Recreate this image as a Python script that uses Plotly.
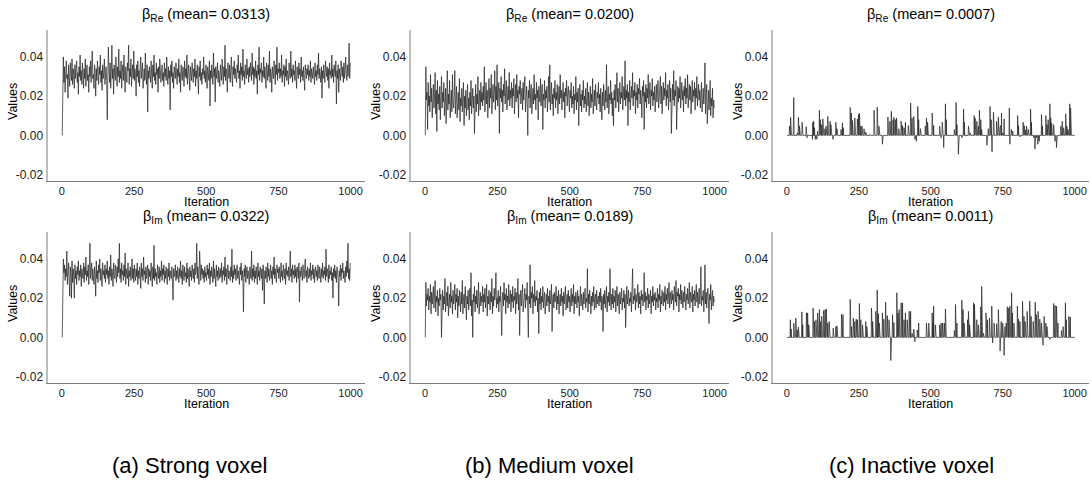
import plotly.graph_objects as go

W, H = 1092, 485

# ---------------- data (values in units of 0.001; iterations 1,3,5,...,999) ----------------
strong_re_milli = [
    0, 14, 40, 27, 35, 22, 33, 38, 29, 31, 19, 36, 30, 25, 37, 33, 28, 39, 26, 34, 31, 24, 36, 29, 33,
    38, 27, 32, 21, 35, 30, 41, 28, 33, 26, 37, 31, 24, 34, 29, 39, 25, 33, 36, 28, 31, 22, 35, 30, 38,
    27, 33, 43, 29, 31, 24, 36, 32, 20, 34, 28, 38, 30, 26, 35, 31, 41, 27, 33, 23, 36, 29, 32, 39, 26,
    31, 35, 28, 8, 30, 45, 33, 27, 37, 24, 32, 46, 29, 34, 21, 36, 31, 28, 40, 33, 25, 35, 30, 44, 27,
    33, 29, 38, 24, 32, 36, 28, 41, 30, 22, 35, 31, 27, 37, 33, 46, 26, 34, 30, 39, 25, 32, 36, 29, 43,
    28, 34, 31, 20, 36, 30, 38, 27, 33, 25, 35, 40, 29, 32, 37, 24, 31, 34, 28, 42, 30, 26, 36, 12, 33,
    29, 35, 31, 27, 38, 33, 24, 36, 30, 41, 28, 32, 26, 37, 31, 34, 22, 35, 29, 39, 30, 27, 33, 36, 28,
    32, 25, 37, 30, 34, 28, 40, 31, 26, 35, 29, 33, 13, 36, 30, 38, 27, 32, 24, 35, 31, 29, 37, 33, 26,
    34, 30, 39, 27, 32, 22, 36, 31, 28, 35, 33, 25, 38, 30, 34, 29, 41, 26, 32, 36, 30, 23, 35, 31, 28,
    37, 32, 27, 34, 30, 39, 25, 33, 29, 36, 31, 21, 35, 30, 38, 28, 32, 26, 34, 31, 40, 29, 33, 27, 36,
    30, 24, 35, 32, 28, 38, 15, 33, 29, 36, 31, 26, 42, 30, 34, 17, 35, 29, 32, 37, 27, 33, 30, 25, 36,
    31, 28, 39, 33, 26, 35, 30, 46, 28, 34, 31, 22, 37, 32, 29, 36, 27, 33, 40, 30, 25, 35, 31, 38, 29,
    34, 30, 27, 36, 32, 41, 29, 33, 24, 37, 31, 35, 28, 44, 30, 33, 26, 36, 32, 29, 39, 31, 34, 27, 35,
    30, 37, 33, 28, 42, 31, 35, 26, 34, 30, 38, 29, 33, 21, 36, 31, 45, 28, 34, 32, 37, 27, 33, 30, 40,
    29, 35, 31, 24, 37, 33, 28, 36, 30, 43, 27, 34, 31, 22, 35, 32, 29, 38, 33, 26, 36, 31, 45, 28, 34,
    32, 37, 29, 34, 30, 41, 27, 33, 31, 36, 25, 35, 30, 39, 28, 33, 31, 26, 37, 32, 29, 43, 30, 34, 27,
    36, 31, 33, 28, 38, 30, 24, 35, 32, 29, 37, 31, 34, 27, 40, 30, 33, 28, 35, 31, 23, 36, 32, 29, 34,
    31, 36, 28, 33, 30, 38, 27, 34, 31, 29, 35, 32, 26, 37, 30, 33, 28, 36, 31, 42, 29, 34, 30, 27, 35,
    19, 33, 29, 36, 31, 27, 38, 32, 30, 35, 28, 34, 24, 37, 31, 33, 29, 41, 30, 34, 27, 36, 32, 30, 38,
    16, 33, 29, 36, 22, 34, 31, 28, 38, 32, 30, 35, 27, 37, 29, 33, 40, 31, 28, 36, 30, 34, 47, 29, 37,
]
strong_im_milli = [
    0, 16, 40, 33, 37, 29, 35, 31, 44, 27, 34, 38, 30, 21, 36, 32, 20, 39, 28, 35, 31, 20, 37, 30, 34,
    27, 36, 32, 39, 29, 34, 31, 37, 26, 35, 33, 30, 38, 28, 36, 32, 41, 29, 34, 31, 37, 27, 35, 48, 30,
    33, 38, 29, 35, 31, 27, 36, 32, 21, 39, 30, 34, 28, 37, 33, 40, 29, 35, 31, 26, 38, 32, 34, 30, 37,
    28, 35, 32, 39, 30, 34, 27, 36, 31, 42, 29, 35, 33, 26, 38, 32, 30, 37, 34, 28, 36, 31, 40, 33, 48,
    30, 35, 28, 38, 32, 34, 29, 37, 31, 43, 27, 35, 32, 30, 38, 26, 34, 31, 36, 29, 33, 40, 30, 35, 28,
    37, 32, 29, 35, 31, 38, 27, 34, 30, 36, 33, 25, 38, 31, 35, 29, 41, 32, 34, 28, 36, 30, 33, 37, 27,
    35, 31, 34, 29, 38, 32, 26, 36, 30, 47, 29, 35, 31, 33, 27, 37, 32, 30, 36, 28, 34, 31, 39, 29, 35,
    32, 37, 28, 34, 30, 36, 33, 27, 35, 31, 38, 29, 34, 32, 30, 36, 28, 19, 35, 31, 33, 37, 29, 34, 30,
    36, 32, 28, 35, 31, 39, 30, 34, 27, 37, 32, 29, 36, 31, 33, 28, 38, 30, 35, 32, 26, 36, 31, 34, 29,
    37, 33, 30, 35, 28, 38, 32, 34, 48, 30, 36, 31, 27, 44, 33, 29, 37, 32, 35, 30, 34, 28, 36, 31, 33,
    29, 37, 32, 35, 30, 38, 27, 34, 31, 36, 33, 28, 39, 30, 35, 32, 26, 37, 31, 34, 29, 36, 32, 30, 35,
    31, 38, 28, 34, 32, 36, 29, 41, 31, 35, 27, 33, 37, 30, 34, 32, 29, 36, 31, 45, 28, 34, 30, 37, 32,
    35, 29, 33, 37, 30, 34, 31, 27, 36, 32, 38, 29, 34, 30, 13, 35, 31, 37, 28, 33, 36, 30, 34, 31, 27,
    36, 32, 30, 44, 29, 35, 31, 37, 28, 34, 30, 36, 32, 27, 38, 31, 34, 29, 36, 33, 30, 35, 24, 37, 32,
    17, 34, 30, 36, 32, 28, 38, 31, 35, 29, 33, 37, 30, 34, 27, 36, 32, 41, 30, 35, 31, 28, 37, 33, 35,
    30, 36, 32, 28, 38, 31, 34, 29, 37, 33, 30, 35, 27, 38, 32, 34, 31, 36, 29, 33, 44, 31, 35, 28, 37,
    32, 34, 30, 37, 31, 35, 28, 36, 33, 30, 38, 18, 34, 31, 36, 32, 29, 37, 33, 30, 35, 40, 31, 34, 28,
    36, 32, 30, 35, 31, 38, 29, 34, 32, 37, 30, 35, 28, 33, 36, 31, 34, 29, 37, 32, 30, 36, 33, 28, 35,
    31, 38, 30, 34, 32, 36, 29, 45, 31, 35, 33, 28, 37, 30, 34, 32, 36, 29, 33, 20, 35, 31, 37, 30, 34,
    28, 36, 32, 30, 16, 34, 31, 37, 29, 35, 33, 38, 30, 34, 32, 28, 36, 31, 39, 33, 48, 30, 35, 29, 38,
]
medium_re_milli = [
    0, 35, 18, 22, 3, 27, 15, 20, 12, 31, 17, 24, 9, 21, 26, 14, 19, 32, 11, 23, 2, 28, 16, 21, 13,
    25, 8, 19, 30, 14, 22, 17, 27, 10, 20, 24, 6, 18, 33, 13, 21, 16, 28, 9, 19, 23, 12, 31, 17, 14,
    20, 33, 11, 18, 25, 9, 16, 22, 13, 29, 7, 19, 15, 24, 12, 17, 27, 5, 20, 14, 23, 10, 18, 26, 13,
    19, 8, 22, 15, 28, 11, 17, 24, 14, 20, 1, 18, 26, 12, 21, 16, 30, 10, 19, 23, 13, 27, 17, 22, 15,
    25, 18, 35, 12, 21, 27, 16, 23, 9, 20, 29, 14, 24, 19, 31, 11, 22, 26, 17, 21, 33, 13, 25, 18, 36,
    15, 22, 27, 1, 24, 19, 30, 17, 23, 12, 26, 20, 34, 16, 22, 28, 13, 21, 25, 18, 32, 15, 23, 19, 27,
    14, 24, 20, 29, 11, 22, 26, 17, 31, 19, 23, 9, 25, 21, 28, 16, 20, 24, 13, 27, 18, 22, 30, 12, 21,
    25, 17, 0, 23, 19, 28, 14, 22, 26, 11, 20, 24, 16, 31, 18, 21, 13, 27, 19, 23, 8, 25, 20, 17, 29,
    15, 22, 26, 3, 21, 18, 28, 14, 23, 19, 25, 12, 20, 30, 17, 36, 13, 22, 27, 16, 21, 10, 24, 19, 28,
    14, 22, 18, 26, 11, 20, 25, 16, 31, 19, 23, 13, 21, 27, 17, 22, 9, 24, 20, 28, 15, 21, 25, 18, 12,
    23, 19, 27, 14, 20, 16, 25, 11, 21, 18, 30, 13, 22, 17, 24, 5, 19, 26, 15, 21, 12, 23, 18, 28, 14,
    20, 16, 24, 12, 19, 27, 15, 22, 10, 18, 25, 14, 21, 17, 29, 11, 20, 23, 15, 26, 18, 13, 22, 19, 27,
    16, 21, 12, 24, 18, 8, 22, 15, 26, 19, 13, 23, 17, 36, 14, 20, 25, 11, 21, 18, 28, 16, 22, 10, 19,
    5, 23, 18, 26, 14, 21, 32, 17, 24, 12, 20, 27, 16, 22, 19, 30, 13, 21, 25, 18, 38, 15, 23, 19, 26,
    5, 22, 17, 28, 13, 21, 25, 19, 32, 15, 23, 20, 27, 11, 22, 18, 26, 14, 24, 21, 29, 16, 23, 19, 9,
    25, 20, 28, 3, 22, 17, 26, 14, 24, 19, 31, 16, 21, 27, 13, 23, 20, 29, 15, 22, 18, 25, 12, 21, 26,
    17, 23, 28, 14, 21, 19, 30, 16, 25, 11, 22, 27, 18, 24, 20, 32, 15, 23, 19, 26, 13, 21, 28, 17, 24,
    1, 22, 26, 18, 33, 15, 23, 20, 28, 3, 21, 25, 17, 24, 19, 30, 14, 22, 27, 18, 23, 12, 25, 20, 29,
    16, 24, 19, 31, 14, 22, 26, 18, 25, 11, 21, 28, 17, 23, 20, 27, 13, 24, 19, 30, 15, 22, 26, 18, 23,
    14, 21, 27, 12, 19, 24, 16, 22, 37, 11, 20, 26, 6, 18, 23, 13, 21, 28, 10, 19, 15, 24, 9, 18, 14,
]
medium_im_milli = [
    0, 28, 16, 22, 19, 25, 14, 21, 18, 27, 12, 23, 17, 20, 26, 15, 22, 29, 13, 21, 18, 24, 11, 20, 16,
    25, 19, 22, 0, 18, 24, 14, 21, 17, 30, 13, 20, 23, 16, 26, 11, 19, 22, 15, 28, 18, 21, 12, 24, 17,
    20, 27, 14, 22, 18, 25, 10, 21, 16, 24, 19, 13, 23, 17, 29, 12, 20, 22, 15, 26, 18, 9, 21, 17, 24,
    14, 20, 25, 16, 33, 11, 19, 0, 22, 18, 26, 13, 21, 17, 24, 15, 20, 28, 12, 19, 23, 16, 21, 18, 26,
    13, 22, 18, 25, 15, 20, 27, 11, 21, 17, 24, 19, 14, 23, 18, 30, 12, 21, 16, 25, 19, 22, 33, 15, 20,
    17, 24, 13, 21, 18, 26, 14, 1, 20, 23, 16, 28, 19, 22, 12, 25, 18, 21, 15, 27, 17, 20, 24, 13, 22,
    18, 26, 15, 21, 19, 25, 12, 23, 17, 20, 30, 14, 22, 1, 19, 24, 16, 21, 27, 13, 20, 18, 25, 15, 22,
    19, 28, 14, 0, 21, 17, 37, 15, 23, 20, 26, 12, 22, 18, 29, 16, 21, 19, 24, 13, 20, 2, 23, 17, 25,
    14, 21, 18, 26, 15, 20, 23, 12, 19, 22, 16, 25, 18, 21, 13, 24, 17, 20, 27, 3, 19, 22, 15, 23, 18,
    20, 26, 14, 21, 17, 24, 12, 19, 22, 16, 25, 18, 21, 11, 23, 17, 20, 26, 14, 19, 22, 15, 24, 18, 21,
    13, 20, 25, 16, 22, 18, 27, 12, 21, 17, 23, 19, 15, 24, 18, 21, 11, 20, 26, 16, 22, 19, 14, 23, 17,
    21, 25, 15, 20, 18, 35, 13, 22, 17, 24, 19, 12, 21, 16, 23, 18, 26, 14, 20, 22, 15, 24, 17, 19, 21,
    16, 23, 18, 25, 14, 21, 19, 3, 22, 17, 24, 15, 20, 26, 13, 21, 18, 23, 16, 35, 19, 14, 22, 17, 25,
    15, 21, 18, 24, 13, 20, 26, 16, 22, 19, 12, 23, 17, 21, 25, 14, 20, 18, 24, 15, 22, 5, 19, 26, 17,
    21, 24, 16, 20, 18, 23, 13, 22, 35, 17, 21, 19, 25, 14, 22, 18, 20, 27, 15, 23, 17, 21, 12, 24, 19,
    22, 16, 20, 33, 18, 23, 14, 21, 19, 25, 15, 22, 17, 20, 24, 12, 21, 18, 26, 16, 22, 19, 23, 14, 20,
    18, 25, 15, 22, 19, 27, 13, 21, 17, 24, 20, 16, 23, 18, 26, 14, 22, 19, 25, 17, 21, 28, 15, 23, 20,
    17, 24, 19, 22, 14, 26, 20, 18, 29, 16, 23, 21, 25, 13, 22, 19, 27, 17, 24, 20, 15, 23, 18, 26, 21,
    14, 22, 19, 25, 17, 21, 28, 15, 23, 20, 18, 26, 13, 22, 19, 24, 16, 21, 27, 18, 23, 15, 20, 25, 17,
    22, 36, 16, 21, 19, 24, 13, 20, 37, 17, 23, 15, 21, 25, 18, 7, 22, 19, 27, 14, 20, 24, 16, 21, 18,
]

# Inactive voxel: sample is exactly 0 except at these iterations (values in units of 0.001)
inactive_re_iters = [
    9, 13, 23, 24, 36, 40, 44, 53, 55, 67, 70, 80, 89, 90, 93, 96, 99, 104, 107, 113, 116, 121, 125, 132,
    136, 142, 150, 153, 160, 170, 174, 188, 193, 196, 220, 224, 228, 236, 245, 249, 252, 257, 261, 268,
    274, 289, 303, 314, 320, 332, 351, 358, 363, 369, 372, 378, 381, 389, 397, 402, 407, 412, 422, 430,
    435, 441, 445, 450, 455, 458, 464, 481, 485, 489, 505, 510, 531, 536, 540, 545, 551, 554, 582, 588,
    591, 596, 608, 614, 617, 631, 637, 651, 654, 660, 666, 669, 674, 677, 683, 695, 700, 706, 710, 713,
    718, 729, 735, 741, 743, 746, 750, 755, 764, 773, 775, 780, 785, 802, 805, 810, 821, 825, 829, 833,
    839, 847, 850, 858, 862, 867, 872, 877, 885, 888, 900, 904, 908, 914, 917, 920, 927, 932, 937, 952,
    957, 962, 969, 973, 977, 983, 986,
]
inactive_re_milli = [
    4.7, 9.2, 9.7, 19.3, 1.3, 9.2, 4.7, 6.7, 3.0, 4.4, -1.2, -0.3, -2.0, 6.7, 7.2, 3.9, -2.0, -2.0, 2.2, 12.8,
    8.0, 5.5, 8.4, 3.4, 4.7, 9.7, 7.2, 5.5, -2.0, 6.7, 3.4, 3.0, 6.4, 3.9, 14.3, 11.4, 7.6, 8.9, 8.4, 10.6,
    11.4, 4.7, 4.7, 3.4, 1.7, 0.5, 12.8, 14.4, 4.7, -4.5, 9.4, 7.2, 12.3, 8.0, 9.2, 8.0, 8.9, 3.4, 7.2, 5.0,
    3.9, 6.7, 5.0, 16.5, 8.9, 9.7, -2.0, -3.0, 14.8, 8.0, 3.4, 4.7, 8.9, 6.7, 11.4, 5.0, 4.7, -1.2, 6.7,
    -6.2, 16.1, 8.0, 3.0, 16.8, 5.5, -9.6, -1.2, 13.4, 6.7, 4.7, 1.3, 10.1, 8.9, 7.2, 4.7, 12.8, 8.0, 3.0,
    0.3, -5.0, 3.4, 14.8, 8.0, -8.4, 11.8, 7.2, 9.4, 3.9, 5.0, 11.4, 1.3, 8.4, -0.3, 13.9, -4.5, 3.0, 2.2,
    10.1, 5.0, -0.7, 6.7, 5.0, 2.7, 4.7, 3.0, 13.4, 6.7, -1.2, -7.0, -1.2, -4.5, -3.0, 10.6, 4.7, 10.1, 5.5,
    8.0, 16.1, 8.9, 6.4, 5.5, -3.0, -6.2, 4.7, 7.2, 3.9, 11.0, 4.7, 3.0, 16.1, 13.9,
]
inactive_im_iters = [
    12, 15, 24, 31, 36, 40, 52, 55, 68, 72, 76, 91, 96, 101, 107, 113, 116, 121, 128, 133, 137, 142, 147,
    161, 170, 174, 190, 195, 220, 225, 231, 236, 241, 245, 252, 257, 263, 274, 278, 294, 298, 309, 314,
    318, 321, 332, 337, 343, 349, 355, 361, 363, 367, 372, 382, 386, 390, 397, 402, 407, 412, 418, 425,
    430, 435, 441, 445, 453, 458, 485, 493, 505, 508, 510, 516, 531, 536, 541, 547, 551, 582, 586, 591,
    608, 612, 616, 628, 631, 635, 649, 652, 660, 666, 674, 677, 683, 692, 697, 704, 712, 715, 720, 729,
    735, 741, 745, 750, 755, 758, 762, 766, 771, 775, 781, 784, 789, 801, 805, 810, 819, 824, 828, 835,
    844, 849, 856, 863, 867, 873, 879, 885, 890, 894, 900, 904, 914, 927, 932, 937, 942, 954, 960, 968,
    971, 980, 985,
]
inactive_im_milli = [
    9.0, 4.2, 7.3, 9.9, 3.8, 5.2, 13.0, 6.4, 12.5, 12.5, 6.4, 15.0, 8.1, 9.0, 12.5, 14.2, 8.1, 10.7, 13.8,
    14.2, 14.5, 7.3, 8.1, 4.7, 5.5, 5.9, 11.9, 11.6, 19.4, 5.5, 9.9, 8.1, 9.3, 9.0, 17.3, 9.0, 6.4, 8.1,
    5.5, 15.0, 8.1, 13.3, 24.2, 12.1, 7.3, 12.5, 9.3, 18.0, 11.1, 9.0, -11.8, -4.8, 11.6, 7.6, 22.8, 12.5,
    14.2, 17.6, 17.6, 9.0, 12.5, 9.0, 13.3, 13.3, 2.1, 4.2, -2.2, 3.8, 7.3, 7.3, 7.3, 12.5, 7.3, 16.0, 6.4,
    6.4, 7.3, 7.3, 7.3, 14.5, 3.5, 16.8, 7.3, 19.0, 14.2, 7.3, 9.0, 13.3, 6.4, 17.6, 16.8, 9.0, 6.4, 15.6,
    26.0, 2.1, 12.5, 9.0, 9.9, 16.0, -2.8, 7.3, 6.9, 14.2, -6.9, 8.1, 7.3, -9.2, 5.5, 7.3, 15.6, 15.0, 16.0,
    22.8, 12.5, 7.3, 16.0, 9.3, 8.1, 18.5, 10.7, 8.1, 13.3, 18.5, 10.7, 8.1, 18.0, 11.6, 13.3, 9.3, 7.3,
    -4.0, 10.7, 7.3, 5.5, -1.0, 17.3, 16.3, 16.0, 7.3, 3.5, 5.5, 17.6, 9.0, 10.7, 10.4,
]

panel_titles = [
    "β<sub>Re</sub> (mean= 0.0313)", "β<sub>Re</sub> (mean= 0.0200)", "β<sub>Re</sub> (mean= 0.0007)",
    "β<sub>Im</sub> (mean= 0.0322)", "β<sub>Im</sub> (mean= 0.0189)", "β<sub>Im</sub> (mean= 0.0011)",
]
captions = ["(a) Strong voxel", "(b) Medium voxel", "(c) Inactive voxel"]
x_tick_vals = [0, 250, 500, 750, 1000]
y_tick_vals = [-0.02, 0.0, 0.02, 0.04]
y_tick_text = ["-0.02", "0.00", "0.02", "0.04"]


def thinned(milli):
    iters = [1 + 2 * i for i in range(len(milli))]
    return iters, [v / 1000.0 for v in milli]


def sparse(iters_nz, milli_nz):
    vals = {it: v / 1000.0 for it, v in zip(iters_nz, milli_nz)}
    iters = list(range(1, 1001))
    return iters, [vals.get(it, 0.0) for it in iters]


series = [
    thinned(strong_re_milli), thinned(medium_re_milli), sparse(inactive_re_iters, inactive_re_milli),
    thinned(strong_im_milli), thinned(medium_im_milli), sparse(inactive_im_iters, inactive_im_milli),
]

# ---------------- layout geometry (pixels) ----------------
cols_px = [(47.5, 365.0), (410.5, 729.0), (772.5, 1089.0)]
rows_px = [(29.5, 180.5), (231.5, 382.5)]

FONT = "Liberation Sans, Arial, sans-serif"
fig = go.Figure()
layout = dict(
    width=W, height=H, margin=dict(l=0, r=0, t=0, b=0, autoexpand=False),
    paper_bgcolor="white", plot_bgcolor="white", showlegend=False,
    font=dict(family=FONT, color="#1a1a1a"),
)
annotations = []

for k in range(6):
    r, c = divmod(k, 3)
    x0, x1 = cols_px[c]
    ytop, ybot = rows_px[r]
    xs, ys = series[k]
    n = "" if k == 0 else str(k + 1)
    fig.add_trace(go.Scatter(
        x=xs, y=ys, mode="lines", xaxis="x" + n, yaxis="y" + n,
        line=dict(color="#1f1f1f", width=0.7), hoverinfo="skip",
    ))
    layout["xaxis" + n] = dict(
        domain=[x0 / W, x1 / W], anchor="y" + n, range=[-50, 1050], automargin=False,
        tickvals=x_tick_vals, ticks="", showgrid=False, zeroline=False,
        showline=True, linecolor="#7f7f7f", linewidth=1,
        tickfont=dict(size=11, color="#1a1a1a", family=FONT),
    )
    layout["yaxis" + n] = dict(
        domain=[1 - ybot / H, 1 - ytop / H], anchor="x" + n, range=[-0.023, 0.054], automargin=False,
        tickvals=y_tick_vals, ticktext=y_tick_text, ticks="", showgrid=False, zeroline=False,
        showline=True, linecolor="#bdbdbd", linewidth=2,
        tickfont=dict(size=12, color="#1a1a1a", family=FONT),
    )
    cx = (x0 + x1) / 2
    annotations.append(dict(
        text=panel_titles[k], x=cx / W, y=1 - (ytop - 14.5) / H, xref="paper", yref="paper",
        showarrow=False, xanchor="center", yanchor="middle",
        font=dict(size=14.5, color="black", family=FONT),
    ))
    annotations.append(dict(
        text="Iteration", x=cx / W, y=1 - (ybot + 21) / H, xref="paper", yref="paper",
        showarrow=False, xanchor="center", yanchor="middle",
        font=dict(size=12.5, color="black", family=FONT),
    ))
    annotations.append(dict(
        text="Values", x=(x0 - 34.5) / W, y=1 - ((ytop + ybot) / 2 - 3) / H, xref="paper", yref="paper",
        showarrow=False, xanchor="center", yanchor="middle", textangle=-90,
        font=dict(size=12.5, color="black", family=FONT),
    ))

caption_x = [189, 549, 911]
for cap, cxp in zip(captions, caption_x):
    annotations.append(dict(
        text=cap, x=cxp / W, y=1 - 465 / H, xref="paper", yref="paper",
        showarrow=False, xanchor="center", yanchor="middle",
        font=dict(size=22, color="black", family=FONT),
    ))

layout["annotations"] = annotations
fig.update_layout(**layout)
fig.write_html(
    "out.html",
    config={"displayModeBar": False},
    post_script="document.body.style.margin='0px';document.body.style.padding='0px';",
)
